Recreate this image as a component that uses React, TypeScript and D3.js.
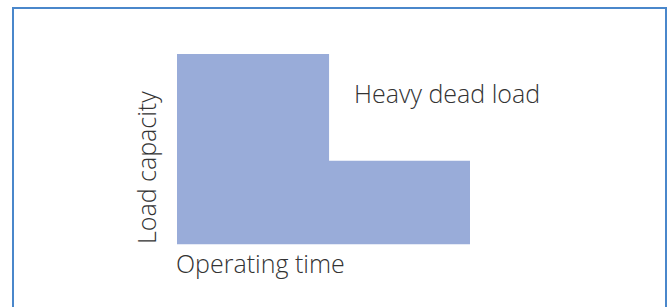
import React, { useEffect, useRef } from "react";
import * as d3 from "d3";

// Operating-time phases (arbitrary units) and load capacity per phase
const phaseStarts = [0, 5.19];
const phaseEnds = [5.19, 10];
const phaseLoads = [10, 4.39];
const timeDomain = [0, 10];
const loadDomain = [0, 10];
const xLabel = "Operating time";
const yLabel = "Load capacity";
const annotation = "Heavy dead load";

const W = 668;
const H = 307;
const FONT = "'Open Sans', 'Liberation Sans', sans-serif";

export default function App() {
  const ref = useRef<SVGSVGElement>(null);
  useEffect(() => {
    const svg = d3.select(ref.current);
    svg.selectAll("*").remove();
    const x = d3.scaleLinear().domain(timeDomain).range([177, 470]);
    const y = d3.scaleLinear().domain(loadDomain).range([244.3, 54]);

    svg
      .append("rect")
      .attr("x", 13)
      .attr("y", 8)
      .attr("width", 653)
      .attr("height", 320)
      .attr("fill", "#fff")
      .attr("stroke", "#4a87cb")
      .attr("stroke-width", 2);

    const pts: [number, number][] = [];
    phaseStarts.forEach((s, i) => {
      pts.push([x(s), y(phaseLoads[i])]);
      pts.push([x(phaseEnds[i]), y(phaseLoads[i])]);
    });
    pts.push([x(phaseEnds[phaseEnds.length - 1]), y(0)]);
    pts.push([x(phaseStarts[0]), y(0)]);
    const line = d3.line();
    svg
      .append("path")
      .attr("d", line(pts) + "Z")
      .attr("fill", "#99acd9");

    const addText = (t: string) =>
      svg
        .append("text")
        .attr("font-family", FONT)
        .attr("font-weight", 300)
        .attr("font-size", 25)
        .attr("fill", "#333")
        .text(t);

    addText(xLabel).attr("x", 176).attr("y", 273);
    addText(yLabel).attr("transform", `translate(156,244) rotate(-90)`);
    addText(annotation).attr("x", 354).attr("y", 103);
  }, []);
  return (
    <svg
      ref={ref}
      width={W}
      height={H}
      style={{ position: "absolute", left: 0, top: 0, display: "block" }}
    />
  );
}
